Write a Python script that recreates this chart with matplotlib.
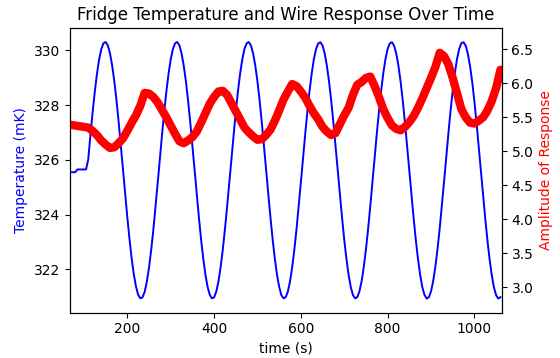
import numpy as np
import matplotlib
matplotlib.use('Agg')
import matplotlib.pyplot as plt

# temperature samples every 5 s, response samples every 10 s
time_temp = np.arange(70, 1061, 5)
time_resp = np.arange(70, 1061, 10)

# fridge temperature (mK)
temperature = [
    325.55, 325.55, 325.55, 325.65, 325.65, 325.65, 325.65, 325.65, 326.01, 326.89,  # 70
    327.72, 328.47, 329.12, 329.65, 330.03, 330.25, 330.30, 330.18, 329.90, 329.46,  # 120
    328.88, 328.19, 327.40, 326.55, 325.67, 324.78, 323.92, 323.13, 322.42, 321.83,  # 170
    321.38, 321.08, 320.95, 320.98, 321.18, 321.55, 322.06, 322.70, 323.44, 324.27,  # 220
    325.14, 326.03, 326.90, 327.73, 328.48, 329.13, 329.66, 330.03, 330.25, 330.30,  # 270
    330.18, 329.89, 329.45, 328.87, 328.18, 327.39, 326.54, 325.65, 324.76, 323.91,  # 320
    323.11, 322.41, 321.82, 321.37, 321.08, 320.95, 320.98, 321.19, 321.55, 322.07,  # 370
    322.71, 323.46, 324.28, 325.15, 326.04, 326.92, 327.75, 328.50, 329.14, 329.66,  # 420
    330.04, 330.25, 330.30, 330.17, 329.88, 329.44, 328.86, 328.16, 327.37, 326.52,  # 470
    325.63, 324.75, 323.89, 323.10, 322.40, 321.81, 321.37, 321.07, 320.95, 320.99,  # 520
    321.19, 321.56, 322.08, 322.72, 323.47, 324.30, 325.17, 326.06, 326.93, 327.76,  # 570
    328.51, 329.15, 329.67, 330.04, 330.25, 330.29, 330.17, 329.88, 329.43, 328.85,  # 620
    328.15, 327.36, 326.50, 325.62, 324.73, 323.88, 323.09, 322.39, 321.81, 321.36,  # 670
    321.07, 320.95, 320.99, 321.20, 321.57, 322.09, 322.73, 323.48, 324.31, 325.19,  # 720
    326.07, 326.95, 327.77, 328.52, 329.16, 329.68, 330.05, 330.25, 330.29, 330.16,  # 770
    329.87, 329.42, 328.84, 328.14, 327.34, 326.49, 325.60, 324.72, 323.86, 323.07,  # 820
    322.38, 321.80, 321.35, 321.07, 320.94, 320.99, 321.20, 321.58, 322.10, 322.75,  # 870
    323.50, 324.33, 325.20, 326.09, 326.96, 327.79, 328.53, 329.17, 329.69, 330.05,  # 920
    330.26, 330.29, 330.16, 329.86, 329.41, 328.83, 328.12, 327.33, 326.47, 325.59,  # 970
    324.70, 323.85, 323.06, 322.37, 321.79, 321.35, 321.06, 320.94, 320.99,          # 1020
]

# wire response amplitude
amplitude = [
    5.39, 5.38, 5.37, 5.36, 5.35, 5.30, 5.24, 5.16, 5.10, 5.05,
    5.06, 5.12, 5.19, 5.30, 5.42, 5.53, 5.67, 5.86, 5.85, 5.80,
    5.72, 5.61, 5.50, 5.38, 5.26, 5.15, 5.12, 5.16, 5.21, 5.29,
    5.42, 5.56, 5.70, 5.80, 5.88, 5.89, 5.83, 5.71, 5.59, 5.47,
    5.35, 5.28, 5.22, 5.17, 5.18, 5.24, 5.32, 5.45, 5.60, 5.76,
    5.88, 5.99, 5.96, 5.88, 5.79, 5.67, 5.56, 5.47, 5.36, 5.29,
    5.24, 5.27, 5.40, 5.53, 5.64, 5.83, 5.98, 6.02, 6.08, 6.10,
    5.96, 5.80, 5.62, 5.49, 5.38, 5.33, 5.31, 5.36, 5.43, 5.52,
    5.64, 5.78, 5.93, 6.08, 6.24, 6.45, 6.40, 6.28, 6.08, 5.85,
    5.62, 5.50, 5.42, 5.41, 5.45, 5.50, 5.60, 5.74, 5.93, 6.20,
]

fig, ax1 = plt.subplots(figsize=(5.6, 3.58), dpi=100)
fig.subplots_adjust(left=0.125, right=0.896, bottom=0.127, top=0.921)

ax1.plot(time_temp, temperature, color='blue', linewidth=1.4)
ax1.set_xlim(68, 1063)
ax1.set_ylim(320.43, 330.8)
ax1.set_xlabel('time (s)')
ax1.set_ylabel('Temperature (mK)', color='blue')
ax1.set_title('Fridge Temperature and Wire Response Over Time')

ax2 = ax1.twinx()
ax2.plot(time_resp, amplitude, color='red', linewidth=6, solid_capstyle='round')
ax2.set_ylim(2.63, 6.81)
ax2.set_ylabel('Amplitude of Response', color='red')

fig.savefig('out.png', dpi=100)
